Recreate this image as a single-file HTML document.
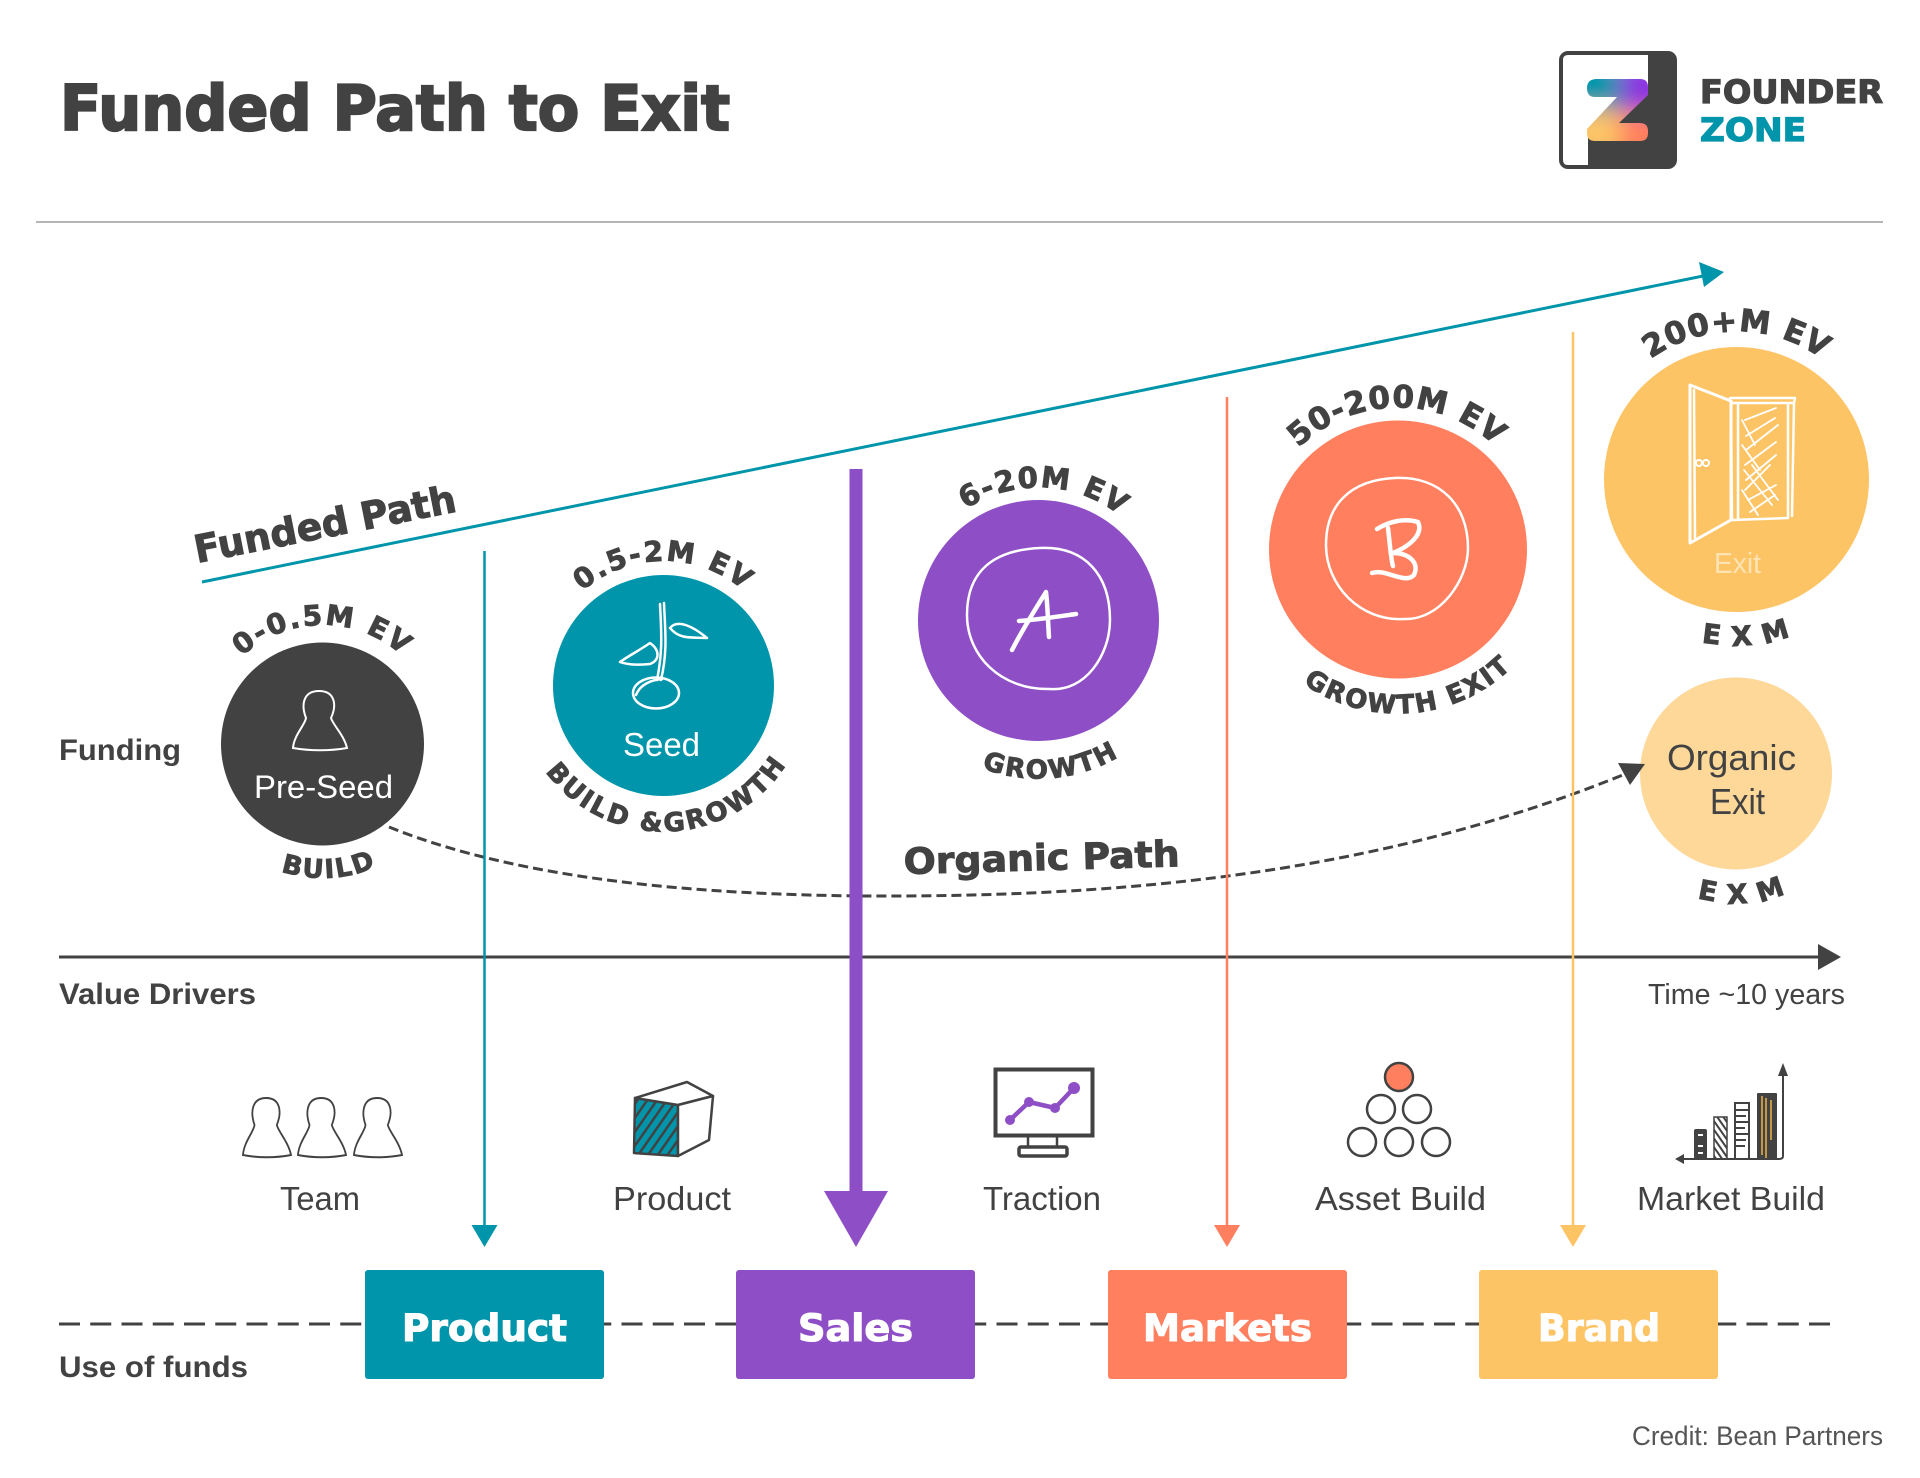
<!DOCTYPE html>
<html><head><meta charset="utf-8"><style>
html,body{margin:0;padding:0;background:#fff;width:1920px;height:1478px;overflow:hidden}
svg{display:block}
.h{font-family:"DejaVu Sans","Liberation Sans",sans-serif;font-weight:700;fill:#424242;stroke:#424242;stroke-width:1}
.hw{font-family:"DejaVu Sans","Liberation Sans",sans-serif;font-weight:700;fill:#fff;stroke:#fff;stroke-width:1.1}
.b{font-family:"Liberation Sans",sans-serif;font-weight:700;fill:#424242}
.r{font-family:"Liberation Sans",sans-serif;font-weight:400;fill:#424242}
.c{font-family:"DejaVu Sans","Liberation Sans",sans-serif;font-weight:700;fill:#424242;stroke:#424242;stroke-width:.9;text-anchor:middle}
.sk{fill:none;stroke:#fff;stroke-width:2.5;stroke-linejoin:round;stroke-linecap:round}
</style></head><body>
<svg width="1920" height="1478" viewBox="0 0 1920 1478" xmlns="http://www.w3.org/2000/svg">
<defs>
<clipPath id="zc"><path d="M1597 79H1640Q1648 79 1648 87V95L1619 123H1640Q1648 123 1648 131V133Q1648 141 1640 141H1595Q1587 141 1587 133V129L1617 97H1595Q1587 97 1587 88Q1587 79 1597 79Z"/></clipPath>
<filter id="bl" x="-50%" y="-50%" width="200%" height="200%"><feGaussianBlur stdDeviation="11"/></filter>
<pattern id="hat" width="8" height="8" patternUnits="userSpaceOnUse" patternTransform="rotate(35)"><rect width="8" height="8" fill="#0095ab"/><rect width="2.5" height="8" fill="#424242"/></pattern>
<pattern id="hat2" width="5" height="5" patternUnits="userSpaceOnUse" patternTransform="rotate(-35)"><rect width="5" height="5" fill="#fff"/><rect width="2" height="5" fill="#424242"/></pattern>
<path id="person" d="M306 718C301 705 303 691 319 691C335 691 337 705 331 718C333 725 344 735 347 748C330 751 310 751 293 748C294 735 305 725 306 718Z"/>
<path id="a1" d="M322.5 863A119 119 0 1 1 322.5 625A119 119 0 1 1 322.5 863"/>
<path id="a2" d="M663.5 810A124.5 124.5 0 1 1 663.5 561A124.5 124.5 0 1 1 663.5 810"/>
<path id="a3" d="M1038.5 753.5A133 133 0 1 1 1038.5 487.5A133 133 0 1 1 1038.5 753.5"/>
<path id="a4" d="M1398 691.5A142 142 0 1 1 1398 407.5A142 142 0 1 1 1398 691.5"/>
<path id="a5" d="M1736.5 627.5A148 148 0 1 1 1736.5 331.5A148 148 0 1 1 1736.5 627.5"/>
<path id="b1" d="M322.5 610A134 134 0 1 0 322.5 878A134 134 0 1 0 322.5 610"/>
<path id="b2" d="M663.5 539.5A146 146 0 1 0 663.5 831.5A146 146 0 1 0 663.5 539.5"/>
<path id="b3" d="M1038.5 462.5A158 158 0 1 0 1038.5 778.5A158 158 0 1 0 1038.5 462.5"/>
<path id="b4" d="M1398 385.5A164 164 0 1 0 1398 713.5A164 164 0 1 0 1398 385.5"/>
<path id="b5" d="M1736.5 313.5A166 166 0 1 0 1736.5 645.5A166 166 0 1 0 1736.5 313.5"/>
<path id="b6" d="M1736.5 643.5A130 130 0 1 0 1736.5 903.5A130 130 0 1 0 1736.5 643.5"/>
</defs>

<!-- Title -->
<text class="h" x="60" y="130" font-size="62" textLength="670" lengthAdjust="spacingAndGlyphs" style="stroke-width:2.2">Funded Path to Exit</text>
<rect x="36" y="221" width="1847" height="2" fill="#b5b5b5"/>

<!-- Logo -->
<rect x="1559" y="51" width="118" height="118" rx="9" fill="#424242"/>
<path d="M1568 55H1648V92L1588 135V165H1568Q1563 165 1563 160V60Q1563 55 1568 55Z" fill="#fff"/>
<g clip-path="url(#zc)"><g filter="url(#bl)">
<rect x="1565" y="60" width="55" height="50" fill="#0095ab"/>
<rect x="1620" y="60" width="50" height="50" fill="#8a35e0"/>
<rect x="1565" y="110" width="55" height="50" fill="#fdc466"/>
<rect x="1620" y="110" width="50" height="50" fill="#ff7f5f"/>
</g></g>
<text class="h" x="1700" y="103" font-size="32" textLength="183" lengthAdjust="spacingAndGlyphs" style="stroke-width:1.2">FOUNDER</text>
<text class="h" x="1700" y="141" font-size="32" textLength="106" lengthAdjust="spacingAndGlyphs" style="fill:#0095ab;stroke:#0095ab;stroke-width:1.2">ZONE</text>

<!-- Dashed use-of-funds line -->
<line x1="59" y1="1324" x2="1840" y2="1324" stroke="#424242" stroke-width="3" stroke-dasharray="21 10.25"/>

<!-- Axis -->
<line x1="59" y1="957" x2="1822" y2="957" stroke="#424242" stroke-width="3"/>
<polygon points="1818,944 1841,957 1818,970" fill="#424242"/>

<!-- Funded path arrow -->
<line x1="202" y1="582" x2="1708" y2="275" stroke="#0095ab" stroke-width="3"/>
<polygon points="1699,262 1724,272 1704,287" fill="#0095ab"/>
<text class="h" font-size="38" transform="translate(197 563) rotate(-11.2)" textLength="266" lengthAdjust="spacingAndGlyphs">Funded Path</text>

<!-- Circles -->
<circle cx="322.5" cy="744" r="101.5" fill="#424242"/>
<circle cx="663.5" cy="685.5" r="110.5" fill="#0095ab"/>
<circle cx="1038.5" cy="620.5" r="120.5" fill="#8e4ec6"/>
<circle cx="1398" cy="549.5" r="129" fill="#ff7f5f"/>
<circle cx="1736.5" cy="479.5" r="132.5" fill="#fdc466"/>
<circle cx="1736" cy="773.5" r="96" fill="#fdd899"/>

<!-- Curved labels -->
<text class="c" font-size="28" letter-spacing="2"><textPath href="#a1" startOffset="50%">0-0.5M EV</textPath></text>
<text class="c" font-size="28" letter-spacing="2"><textPath href="#a2" startOffset="50%">0.5-2M EV</textPath></text>
<text class="c" font-size="29" letter-spacing="1.5" transform="rotate(2.5 1038.5 620.5)"><textPath href="#a3" startOffset="50%">6-20M EV</textPath></text>
<text class="c" font-size="31" letter-spacing="1" transform="rotate(-.5 1398 549.5)"><textPath href="#a4" startOffset="50%">50-200M EV</textPath></text>
<text class="c" font-size="31" letter-spacing=".7"><textPath href="#a5" startOffset="50%">200+M EV</textPath></text>
<text class="c" font-size="26" letter-spacing="2" transform="rotate(-3 322.5 744)"><textPath href="#b1" startOffset="50%">BUILD</textPath></text>
<text class="c" font-size="26" letter-spacing="2.5" transform="rotate(-2 663.5 685.5)"><textPath href="#b2" startOffset="50%">BUILD &amp;GROWTH</textPath></text>
<text class="c" font-size="26" letter-spacing="2" transform="rotate(-5 1038.5 620.5)"><textPath href="#b3" startOffset="50%">GROWTH</textPath></text>
<text class="c" font-size="26" letter-spacing="2" transform="rotate(-4.5 1398 549.5)"><textPath href="#b4" startOffset="50%">GROWTH EXIT</textPath></text>
<text class="c" font-size="27" letter-spacing="12" transform="rotate(-5.5 1736.5 479.5)"><textPath href="#b5" startOffset="50%">EXM</textPath></text>
<text class="c" font-size="27" letter-spacing="12" transform="rotate(-5 1736 773.5)"><textPath href="#b6" startOffset="50%">EXM</textPath></text>

<!-- Circle inner -->
<use href="#person" fill="none" stroke="#fff" stroke-width="2"/>
<text class="r" x="254" y="798" font-size="32" textLength="139" lengthAdjust="spacingAndGlyphs" style="fill:#fff">Pre-Seed</text>
<g class="sk">
<path d="M664 603C665 630 668 650 661 680M660 604C662 640 662 655 657 680"/>
<path d="M670 628C678 618 695 628 707 638C692 637 680 640 670 628Z"/>
<path d="M650 643C660 650 660 660 650 664C640 665 628 665 620 662C630 655 640 650 650 643Z"/>
<ellipse cx="656" cy="693" rx="23" ry="15.5"/>
<path d="M636 695C640 685 650 680 662 679"/>
</g>
<text class="r" x="623" y="756" font-size="33" textLength="77" lengthAdjust="spacingAndGlyphs" style="fill:#fff">Seed</text>

<path d="M1040 548C1085 546 1110 575 1110 620C1110 655 1085 692 1050 689C1000 690 967 655 967 615C967 570 995 550 1040 548Z" fill="none" stroke="#fff" stroke-width="2.5"/>
<path d="M1012 650C1025 625 1038 605 1046 592C1048 610 1048 625 1049 637M1019 621C1035 620 1055 617 1076 614" fill="none" stroke="#fff" stroke-width="4.5" stroke-linecap="round" stroke-linejoin="round"/>

<path d="M1395 478C1440 476 1468 505 1468 548C1468 580 1440 620 1405 619C1360 622 1326 585 1326 545C1326 505 1350 480 1395 478Z" fill="none" stroke="#fff" stroke-width="2.5"/>
<path d="M1377 529C1390 521 1405 518 1418 522C1424 535 1408 547 1393 553C1408 553 1420 562 1414 575C1405 585 1385 568 1372 573M1388 528C1390 545 1391 560 1393 566" fill="none" stroke="#fff" stroke-width="4.5" stroke-linecap="round" stroke-linejoin="round"/>

<g class="sk">
<path d="M1690 385L1731 401V520L1690 543Z" stroke-width="3"/>
<path d="M1694 390L1695 538M1731 401L1732 520"/>
<path d="M1730 398L1795 398L1794 403L1732 403M1738 403V520M1788 403V518M1732 520L1788 518M1794 403L1792 516"/>
<circle cx="1699" cy="463" r="3" stroke-width="2"/><circle cx="1706" cy="463" r="3" stroke-width="2"/>
<path stroke-width="1.8" d="M1745 420L1776 408M1746 436L1775 418M1746 450L1778 425M1745 465L1776 442M1746 480L1776 455M1745 490L1770 465M1748 500L1776 485M1750 512L1775 495M1742 420L1755 445M1742 445L1760 470M1744 470L1772 505M1742 490L1758 515M1752 465L1778 500"/>
</g>
<text class="r" x="1714" y="573" font-size="29" textLength="47" lengthAdjust="spacingAndGlyphs" style="fill:#fee3b5">Exit</text>

<text class="r" x="1667" y="770" font-size="36" textLength="129" lengthAdjust="spacingAndGlyphs">Organic</text>
<text class="r" x="1710" y="814" font-size="36" textLength="55" lengthAdjust="spacingAndGlyphs">Exit</text>

<!-- Organic curve -->
<path d="M389 827C520 880 700 895 870 896C1120 897 1380 875 1630 772" fill="none" stroke="#424242" stroke-width="3" stroke-dasharray="10 5"/>
<polygon points="1618,763 1645,764 1630,785" fill="#424242"/>
<text class="h" font-size="36" transform="translate(904 874) rotate(-1.6)" textLength="276" lengthAdjust="spacingAndGlyphs">Organic Path</text>

<!-- Row labels -->
<text class="b" x="59" y="760" font-size="30" textLength="122" lengthAdjust="spacingAndGlyphs">Funding</text>
<text class="b" x="59" y="1004" font-size="30" textLength="197" lengthAdjust="spacingAndGlyphs">Value Drivers</text>
<text class="b" x="59" y="1377" font-size="30" textLength="189" lengthAdjust="spacingAndGlyphs">Use of funds</text>
<text class="r" x="1648" y="1004" font-size="29" textLength="197" lengthAdjust="spacingAndGlyphs">Time ~10 years</text>

<!-- Vertical arrows -->
<line x1="484.5" y1="551" x2="484.5" y2="1228" stroke="#0095ab" stroke-width="2.5"/>
<polygon points="471.5,1225 497.5,1225 484.5,1247" fill="#0095ab"/>
<rect x="849.5" y="469" width="13" height="725" fill="#8e4ec6"/>
<polygon points="824,1191 888,1191 856,1247" fill="#8e4ec6"/>
<line x1="1227" y1="397" x2="1227" y2="1228" stroke="#ff7f5f" stroke-width="2.5"/>
<polygon points="1214,1225 1240,1225 1227,1247" fill="#ff7f5f"/>
<line x1="1573" y1="332" x2="1573" y2="1228" stroke="#fdc466" stroke-width="2.5"/>
<polygon points="1560,1225 1586,1225 1573,1247" fill="#fdc466"/>

<!-- Value driver icons -->
<g fill="#fff" stroke="#424242" stroke-width="2">
<use href="#person" transform="translate(-17.8 407) scale(.89 1)"/>
<use href="#person" transform="translate(37.2 407) scale(.89 1)"/>
<use href="#person" transform="translate(93.2 407) scale(.89 1)"/>
</g>
<g stroke="#424242" stroke-width="2.5" stroke-linejoin="round">
<polygon points="635,1098 678,1105 678,1156 634,1153" fill="url(#hat)"/>
<polygon points="635,1098 687,1082 713,1096 678,1105" fill="#fff"/>
<polygon points="678,1105 713,1096 709,1140 678,1156" fill="#fff"/>
</g>
<text class="r" x="280" y="1210" font-size="33" textLength="80" lengthAdjust="spacingAndGlyphs">Team</text>
<text class="r" x="613" y="1210" font-size="33" textLength="118" lengthAdjust="spacingAndGlyphs">Product</text>
<text class="r" x="983" y="1210" font-size="33" textLength="118" lengthAdjust="spacingAndGlyphs">Traction</text>
<text class="r" x="1315" y="1210" font-size="33" textLength="171" lengthAdjust="spacingAndGlyphs">Asset Build</text>
<text class="r" x="1637" y="1210" font-size="33" textLength="188" lengthAdjust="spacingAndGlyphs">Market Build</text>

<!-- Traction -->
<rect x="995.5" y="1069.5" width="97" height="66" fill="#fff" stroke="#424242" stroke-width="4"/>
<path d="M1028 1137V1147M1057 1137V1147" stroke="#424242" stroke-width="2.5"/>
<rect x="1019" y="1147" width="48" height="9" rx="2" fill="#fff" stroke="#424242" stroke-width="3.5"/>
<polyline points="1010,1120 1029,1102 1055,1108 1074,1088" fill="none" stroke="#8e4ec6" stroke-width="4.5"/>
<g fill="#8e4ec6"><circle cx="1010" cy="1120" r="5"/><circle cx="1029" cy="1102" r="5"/><circle cx="1055" cy="1108" r="5"/><circle cx="1074" cy="1088" r="6"/></g>

<!-- Pyramid -->
<g fill="#fff" stroke="#424242" stroke-width="2.5">
<circle cx="1399" cy="1077" r="14" fill="#ff7f5f"/>
<circle cx="1381" cy="1109" r="14"/><circle cx="1417" cy="1109" r="14"/>
<circle cx="1362" cy="1142" r="14"/><circle cx="1399" cy="1142" r="14"/><circle cx="1436" cy="1142" r="14"/>
</g>

<!-- Market build -->
<rect x="1694" y="1129" width="13" height="30" rx="2" fill="#424242"/>
<path d="M1698 1135H1703M1698 1146H1703M1698 1153H1703" stroke="#fff" stroke-width="2"/>
<rect x="1714" y="1117" width="13" height="42" fill="url(#hat2)" stroke="#424242" stroke-width="1.5"/>
<rect x="1735" y="1103" width="14" height="56" fill="#fff" stroke="#424242" stroke-width="2"/>
<path d="M1736 1110H1748M1736 1116H1746M1736 1122H1748M1736 1128H1745M1736 1134H1748M1736 1140H1746M1736 1146H1745" stroke="#424242" stroke-width="2"/>
<rect x="1757" y="1093" width="20" height="66" rx="1" fill="#424242"/>
<path d="M1762 1096V1155M1766 1098V1158M1771 1100V1140" stroke="#f0b24a" stroke-width="1.5"/>
<path d="M1783 1070V1156Q1783 1159 1779 1159H1682" fill="none" stroke="#424242" stroke-width="2"/>
<polygon points="1783,1063 1778,1076 1788,1076" fill="#424242"/>
<polygon points="1675,1159 1684,1154 1684,1164" fill="#424242"/>

<!-- Use of funds boxes -->
<rect x="365" y="1270" width="239" height="109" rx="3" fill="#0095ab"/>
<rect x="736" y="1270" width="239" height="109" rx="3" fill="#8e4ec6"/>
<rect x="1108" y="1270" width="239" height="109" rx="3" fill="#ff7f5f"/>
<rect x="1479" y="1270" width="239" height="109" rx="3" fill="#fdc466"/>
<text class="hw" x="402" y="1341" font-size="37" textLength="165" lengthAdjust="spacingAndGlyphs">Product</text>
<text class="hw" x="798" y="1341" font-size="37" textLength="115" lengthAdjust="spacingAndGlyphs">Sales</text>
<text class="hw" x="1143" y="1341" font-size="37" textLength="169" lengthAdjust="spacingAndGlyphs">Markets</text>
<text class="hw" x="1538" y="1341" font-size="37" textLength="122" lengthAdjust="spacingAndGlyphs">Brand</text>

<text class="r" x="1632" y="1445" font-size="27" textLength="251" lengthAdjust="spacingAndGlyphs" style="fill:#555">Credit: Bean Partners</text>
</svg>
</body></html>
